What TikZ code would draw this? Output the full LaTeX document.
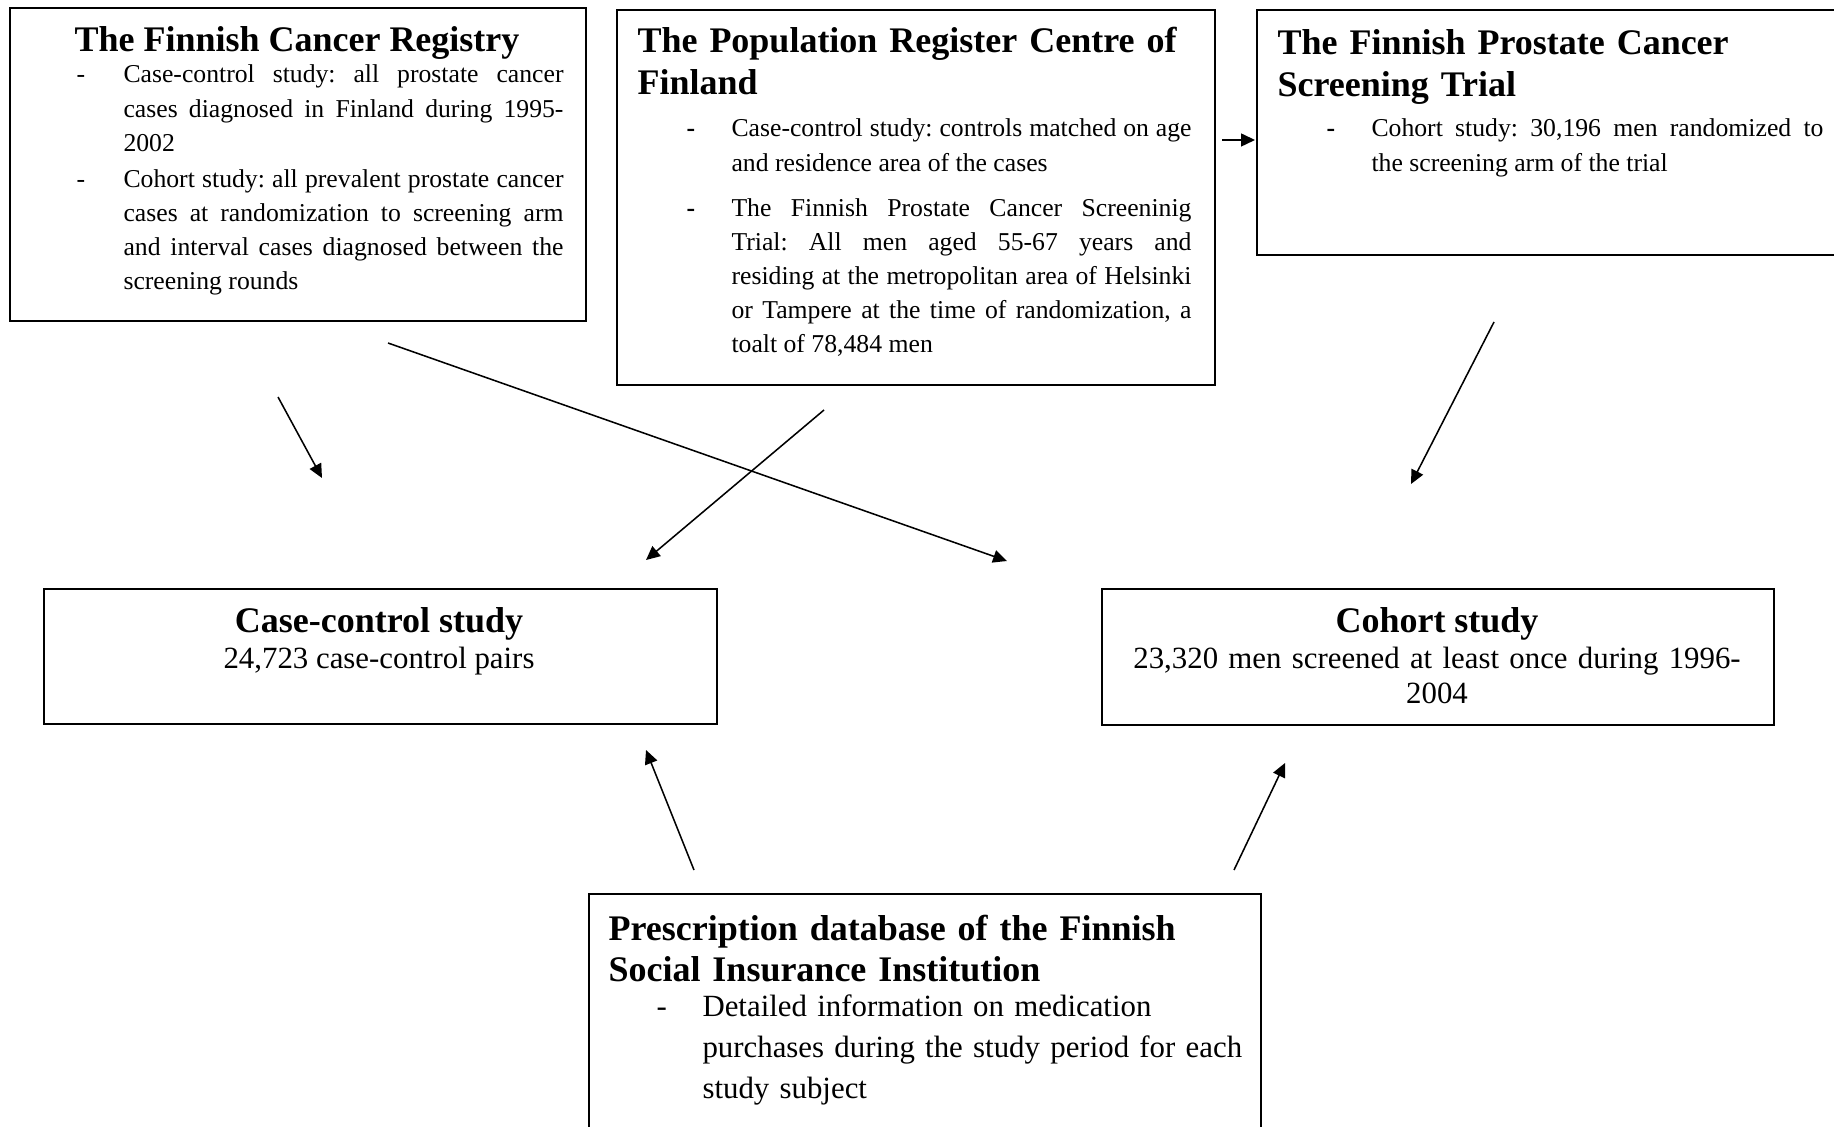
\documentclass[tikz,border=0pt]{standalone}
\usepackage{fontspec}
\setmainfont{Liberation Serif}
\usetikzlibrary{arrows.meta}

% one pixel of the layout grid
\newlength{\pxu}
\setlength{\pxu}{0.389pt}
\newcommand{\headfont}{\bfseries\fontsize{14}{16.3}\selectfont}
\newcommand{\notefont}{\fontsize{10}{13.3}\selectfont}
\newcommand{\bodyfont}{\fontsize{12}{13.8}\selectfont}
\newcommand{\dashitem}[3][-]{\noindent\hangindent=#2\hangafter=1%
  \makebox[#2][l]{#1}#3\par}
\frenchspacing
\hyphenpenalty=10000
\exhyphenpenalty=10000
\tolerance=10000
\hbadness=10000

\tikzset{
  frame/.style={draw, line width=0.8pt, inner sep=0pt, anchor=north west},
  head/.style={inner sep=0pt, font=\headfont},
  notes/.style={inner sep=0pt, anchor=base west, text width=#1, align=justify,
    font=\notefont},
  feed/.style={-{Triangle[length=5.4pt,width=5pt]}, line width=0.6pt},
}

\begin{document}
\begin{tikzpicture}[x=\pxu, y=-\pxu]
  \useasboundingbox (0,0) rectangle (1834,1127);
  \clip (0,0) rectangle (1834,1127);

  % cancer registry
  \node[frame, minimum width=576*\pxu, minimum height=313*\pxu] (reg) at (9,7) {};
  \node[head, anchor=base] (reg-head) at (297,52) {The Finnish Cancer Registry};
  \node[notes=487*\pxu] (reg-notes) at (76,83) {%
    \setlength{\parskip}{0.6pt}%
    \dashitem{47\pxu}{Case-control study: all prostate cancer\linebreak
      cases diagnosed in Finland during 1995-\linebreak 2002}%
    \dashitem{47\pxu}{Cohort study: all prevalent prostate cancer\linebreak
      cases at randomization to screening arm\linebreak
      and interval cases diagnosed between the\linebreak
      screening rounds}};

  % population register
  \node[frame, minimum width=598*\pxu, minimum height=375*\pxu] (prc) at (616,9) {};
  \node[head, anchor=base west, text width=560*\pxu, align=left] (prc-head)
    at (637,53) {The Population Register Centre of\\Finland};
  \node[notes=505*\pxu] (prc-notes) at (686,137) {%
    \setlength{\parskip}{4.2pt}%
    \dashitem[\textbf{-}]{45\pxu}{Case-control study: controls matched on age\linebreak
      and residence area of the cases}%
    \dashitem[\textbf{-}]{45\pxu}{The Finnish Prostate Cancer Screeninig\linebreak
      Trial: All men aged 55-67 years and\linebreak
      residing at the metropolitan area of Helsinki\linebreak
      or Tampere at the time of randomization, a\linebreak
      toalt of 78,484 men}};

  % screening trial
  \node[frame, minimum width=600*\pxu, minimum height=245*\pxu] (trial) at (1256,9) {};
  \node[head, anchor=base west, text width=545*\pxu, align=left] (trial-head)
    at (1277,55) {The Finnish Prostate Cancer\\Screening Trial};
  \node[notes=497*\pxu] (trial-notes) at (1326,137) {%
    \dashitem[\textbf{-}]{45\pxu}{Cohort study: 30,196 men randomized to\linebreak
      the screening arm of the trial}};

  % study arms
  \node[frame, minimum width=673*\pxu, minimum height=135*\pxu] (cc) at (43,588) {};
  \node[head, anchor=base] (cc-head) at (379,632) {Case-control study};
  \node[inner sep=0pt, anchor=base, font=\bodyfont] (cc-notes) at (379,668)
    {24,723 case-control pairs};

  \node[frame, minimum width=672*\pxu, minimum height=136*\pxu] (coh) at (1101,588) {};
  \node[head, anchor=base] (coh-head) at (1437,632) {Cohort study};
  \node[inner sep=0pt, anchor=base, text width=640*\pxu, align=center,
    font=\bodyfont] (coh-notes) at (1437,668)
    {23,320 men screened at least once during 1996-\\2004};

  % prescription database
  \node[frame, minimum width=672*\pxu, minimum height=260*\pxu] (kela) at (588,893) {};
  \node[head, anchor=base west, text width=620*\pxu, align=left] (kela-head)
    at (608,940) {Prescription database of the Finnish\\Social Insurance Institution};
  \node[notes=600*\pxu, align=left, font=\fontsize{12}{16}\selectfont]
    (kela-notes) at (656,1016) {%
    \dashitem{46\pxu}{Detailed information on medication\newline
      purchases during the study period for each\newline
      study subject}};

  % arrows
  \coordinate (reg-a) at (278,397);
  \coordinate (cc-a) at (322,478);
  \coordinate (reg-b) at (388,343);
  \coordinate (coh-a) at (1007,561);
  \coordinate (prc-a) at (824,410);
  \coordinate (cc-b) at (646,560);
  \coordinate (prc-b) at (1222,140);
  \coordinate (trial-b) at (1255,140);
  \coordinate (trial-a) at (1494,322);
  \coordinate (coh-b) at (1411,484);
  \coordinate (kela-a) at (694,870);
  \coordinate (cc-c) at (646,750);
  \coordinate (kela-b) at (1234,870);
  \coordinate (coh-c) at (1285,763);

  \draw[feed] (reg-a) -- (cc-a);
  \draw[feed] (reg-b) -- (coh-a);
  \draw[feed] (prc-a) -- (cc-b);
  \draw[feed] (prc-b) -- (trial-b);
  \draw[feed] (trial-a) -- (coh-b);
  \draw[feed] (kela-a) -- (cc-c);
  \draw[feed] (kela-b) -- (coh-c);

\end{tikzpicture}
\end{document}
